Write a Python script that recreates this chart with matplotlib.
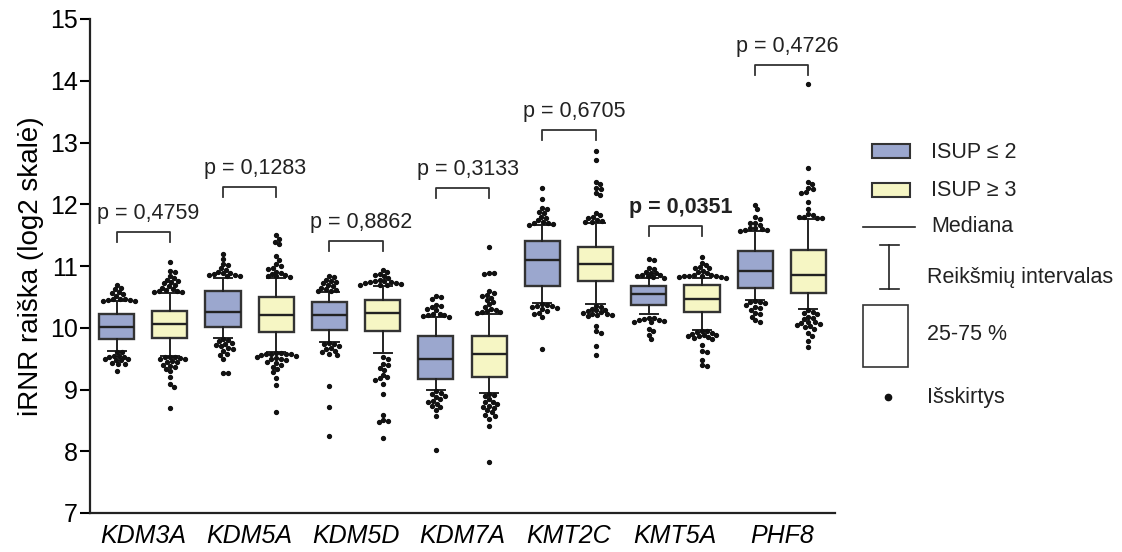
import numpy as np
import matplotlib
matplotlib.use("Agg")
import matplotlib.pyplot as plt
from matplotlib.patches import Rectangle

plt.rcParams['font.family'] = ['Liberation Sans', 'DejaVu Sans']

genes = ['KDM3A', 'KDM5A', 'KDM5D', 'KDM7A', 'KMT2C', 'KMT5A', 'PHF8']
groups = ['ISUP ≤ 2', 'ISUP ≥ 3']

# box stats per gene: (q1, median, q3, whisker low, whisker high)
low_stats = [(9.82, 10.02, 10.23, 9.63, 10.43),
             (10.02, 10.25, 10.60, 9.83, 10.81),
             (9.96, 10.21, 10.41, 9.77, 10.58),
             (9.17, 9.49, 9.87, 8.99, 10.17),
             (10.67, 11.09, 11.41, 10.40, 11.66),
             (10.37, 10.55, 10.67, 10.22, 10.80),
             (10.64, 10.92, 11.25, 10.45, 11.56)]
high_stats = [(9.83, 10.06, 10.27, 9.54, 10.57),
              (9.93, 10.21, 10.50, 9.60, 10.80),
              (9.94, 10.24, 10.45, 9.59, 10.68),
              (9.20, 9.57, 9.87, 8.95, 10.23),
              (10.76, 11.03, 11.31, 10.38, 11.70),
              (10.26, 10.46, 10.69, 9.97, 10.80),
              (10.56, 10.86, 11.26, 10.30, 11.76)]

# outlying points
low_out = [
    [10.69, 10.65, 10.62, 10.58, 10.56, 10.54, 10.52, 10.47, 10.46, 10.46, 10.45, 10.45, 10.44, 10.44,
     9.61, 9.60, 9.55, 9.54, 9.53, 9.52, 9.50, 9.49, 9.48, 9.47, 9.43, 9.42, 9.41, 9.30],
    [11.19, 11.11, 11.03, 11.01, 10.96, 10.94, 10.90, 10.89, 10.88, 10.87, 10.86, 10.85, 10.84, 10.83,
     9.81, 9.80, 9.78, 9.76, 9.74, 9.72, 9.70, 9.68, 9.65, 9.62, 9.58, 9.56, 9.50, 9.27, 9.26],
    [10.84, 10.82, 10.78, 10.76, 10.74, 10.72, 10.70, 10.67, 10.65, 10.63, 10.61, 10.60, 10.59,
     9.75, 9.74, 9.73, 9.71, 9.68, 9.66, 9.63, 9.61, 9.58, 9.56, 9.05, 8.71, 8.24],
    [10.51, 10.50, 10.46, 10.37, 10.35, 10.33, 10.30, 10.28, 10.23, 10.22, 10.21, 10.20, 10.19, 10.18,
     8.97, 8.95, 8.92, 8.90, 8.88, 8.84, 8.82, 8.79, 8.77, 8.74, 8.71, 8.67, 8.57, 8.02],
    [12.27, 12.08, 11.94, 11.93, 11.88, 11.86, 11.80, 11.78, 11.74, 11.72, 11.70, 11.69, 11.68, 11.67,
     10.38, 10.37, 10.36, 10.35, 10.34, 10.32, 10.30, 10.27, 10.24, 10.22, 10.17, 9.66],
    [11.11, 11.10, 10.97, 10.95, 10.91, 10.89, 10.88, 10.86, 10.85, 10.84, 10.83, 10.82, 10.81,
     10.16, 10.15, 10.14, 10.13, 10.12, 10.11, 10.10, 10.09, 9.98, 9.94, 9.88, 9.81],
    [11.99, 11.92, 11.79, 11.76, 11.70, 11.69, 11.67, 11.62, 11.61, 11.60, 11.59, 11.58, 11.57,
     10.43, 10.42, 10.41, 10.40, 10.37, 10.34, 10.32, 10.29, 10.24, 10.22, 10.18, 10.12, 10.10],
]
high_out = [
    [11.06, 10.92, 10.90, 10.84, 10.80, 10.78, 10.76, 10.74, 10.72, 10.70, 10.67, 10.65, 10.63, 10.61,
     10.59, 10.59, 10.58, 10.58,
     9.53, 9.52, 9.52, 9.51, 9.50, 9.49, 9.46, 9.45, 9.44, 9.40, 9.38, 9.36, 9.33, 9.30, 9.21, 9.09,
     9.04, 8.70],
    [11.50, 11.44, 11.39, 11.35, 11.16, 11.10, 11.03, 11.00, 10.97, 10.95, 10.91, 10.89, 10.87, 10.85,
     10.84, 10.83, 10.82,
     9.59, 9.59, 9.58, 9.58, 9.57, 9.57, 9.56, 9.55, 9.53, 9.51, 9.50, 9.49, 9.47, 9.45, 9.43, 9.40,
     9.37, 9.33, 9.29, 9.18, 9.07, 8.63],
    [10.93, 10.90, 10.87, 10.85, 10.83, 10.80, 10.78, 10.76, 10.75, 10.74, 10.74, 10.73, 10.72, 10.71,
     10.70, 10.70, 10.69,
     9.52, 9.50, 9.41, 9.39, 9.35, 9.32, 9.24, 9.20, 9.18, 9.15, 9.09, 8.92, 8.59, 8.51, 8.49, 8.47, 8.21],
    [11.31, 10.89, 10.88, 10.87, 10.60, 10.57, 10.53, 10.51, 10.48, 10.45, 10.41, 10.38, 10.34, 10.31,
     10.29, 10.27, 10.26, 10.25, 10.24,
     8.93, 8.91, 8.89, 8.84, 8.80, 8.79, 8.76, 8.73, 8.72, 8.70, 8.66, 8.63, 8.59, 8.57, 8.52, 8.41, 7.82],
    [12.86, 12.71, 12.36, 12.33, 12.27, 12.25, 12.18, 12.15, 11.86, 11.82, 11.80, 11.77, 11.75, 11.73,
     11.72, 11.71,
     10.36, 10.34, 10.31, 10.29, 10.28, 10.27, 10.25, 10.24, 10.23, 10.22, 10.21, 10.20, 10.19, 10.03,
     9.94, 9.92, 9.70, 9.56],
    [11.14, 11.05, 11.02, 10.98, 10.97, 10.96, 10.92, 10.90, 10.88, 10.86, 10.85, 10.84, 10.84, 10.83,
     10.83, 10.82, 10.82, 10.81,
     9.95, 9.94, 9.93, 9.92, 9.90, 9.89, 9.88, 9.87, 9.86, 9.85, 9.83, 9.81, 9.72, 9.62, 9.60, 9.48,
     9.40, 9.38],
    [13.94, 12.59, 12.36, 12.32, 12.27, 12.24, 12.20, 12.18, 12.03, 11.93, 11.84, 11.82, 11.80, 11.79,
     11.78, 11.77,
     10.28, 10.26, 10.24, 10.22, 10.18, 10.16, 10.14, 10.10, 10.09, 10.08, 10.06, 10.05, 10.03, 10.01,
     9.98, 9.92, 9.87, 9.78, 9.69],
]

p_values = ['p = 0,4759', 'p = 0,1283', 'p = 0,8862', 'p = 0,3133',
            'p = 0,6705', 'p = 0,0351', 'p = 0,4726']
p_bold = [False, False, False, False, False, True, False]
bracket_y = [11.55, 12.28, 11.40, 12.26, 13.20, 11.65, 14.26]

col_low = '#9BA7CE'
col_high = '#F6F6C4'
edge = '#333333'

W, H = 1122, 552
fig = plt.figure(figsize=(W / 100, H / 100), dpi=100)
ax = fig.add_axes([90 / W, 1 - 513 / H, 745 / W, 494 / H])

off = 0.25
bw = 0.33
px_x = 745 / 7.0     # pixels per x unit
px_y = 494 / 8.0     # pixels per y unit


def make_stats(s):
    return dict(q1=s[0], med=s[1], q3=s[2], whislo=s[3], whishi=s[4], fliers=[])


def swarm(vals, diam=4.7):
    # simple beeswarm layout in pixel space
    placed = []
    xs = np.zeros(len(vals))
    order = np.argsort(-np.asarray(vals))
    steps = np.arange(0, 40, 0.5)
    cand = [0.0]
    for s in steps[1:]:
        cand += [s, -s]
    for i in order:
        y = vals[i] * px_y
        for c in cand:
            if all((c - px) ** 2 + (y - py) ** 2 >= diam ** 2 for px, py in placed):
                break
        placed.append((c, y))
        xs[i] = c / px_x
    return xs


for k in range(len(genes)):
    for stats, outs, dx, col in [(low_stats, low_out, -off, col_low),
                                 (high_stats, high_out, off, col_high)]:
        pos = k + dx
        ax.bxp([make_stats(stats[k])], positions=[pos], widths=bw, capwidths=0.17,
               patch_artist=True, showfliers=False,
               boxprops=dict(facecolor=col, edgecolor=edge, linewidth=1.7),
               medianprops=dict(color='#222222', linewidth=1.7),
               whiskerprops=dict(color='#222222', linewidth=1.4),
               capprops=dict(color='#222222', linewidth=1.4))
        v = np.asarray(outs[k])
        ax.plot(pos + swarm(v), v, 'o', color='#111111', markersize=2.8, zorder=4)

    # p-value bracket
    x0, x1 = k - off, k + off
    yb = bracket_y[k]
    ax.plot([x0, x0, x1, x1], [yb - 0.16, yb, yb, yb - 0.16], color='#333333', lw=1.3)
    ax.text(k + 0.05, yb + 0.30, p_values[k], ha='center', va='center', fontsize=15.5,
            fontweight='bold' if p_bold[k] else 'normal', color='#222222')

ax.set_xlim(-0.5, 6.5)
ax.set_ylim(7, 15)
ax.set_yticks(range(7, 16))
ax.set_xticks(range(len(genes)))
ax.set_xticklabels(genes, fontstyle='italic', fontsize=18)
ax.tick_params(axis='x', length=0, pad=8)
ax.tick_params(axis='y', labelsize=18, length=7, width=1.5, pad=2)
for sp in ['top', 'right']:
    ax.spines[sp].set_visible(False)
for sp in ['left', 'bottom']:
    ax.spines[sp].set_linewidth(1.6)
    ax.spines[sp].set_color('#222222')
ax.set_ylabel('iRNR raiška (log2 skalė)', fontsize=20, labelpad=4)

# legend drawn in pixel coordinates
lg = fig.add_axes([0, 0, 1, 1], facecolor='none')
lg.set_xlim(0, W)
lg.set_ylim(H, 0)
lg.axis('off')
lg.add_patch(Rectangle((872, 144), 38, 14, facecolor=col_low, edgecolor=edge, lw=1.5))
lg.add_patch(Rectangle((872, 183), 38, 14, facecolor=col_high, edgecolor=edge, lw=1.5))
lg.plot([863, 915], [227, 227], color='#222222', lw=1.2)
lg.plot([889, 889], [245, 289], color='#222222', lw=1.2)
lg.plot([880, 899], [245, 245], color='#222222', lw=1.2)
lg.plot([880, 899], [289, 289], color='#222222', lw=1.2)
lg.add_patch(Rectangle((863, 305), 45, 62, facecolor='white', edgecolor=edge, lw=1.2))
lg.plot([888], [397], 'o', color='#111111', markersize=4.5)
leg_text = [(931, 152, groups[0]), (931, 190, groups[1]), (931, 227, 'Mediana'),
            (927, 277, 'Reikšmių intervalas'), (927, 334, '25-75 %'), (927, 397, 'Išskirtys')]
for x, y, t in leg_text:
    lg.text(x, y, t, ha='left', va='center', fontsize=15.5, color='#222222')

fig.savefig('out.png', dpi=100)
